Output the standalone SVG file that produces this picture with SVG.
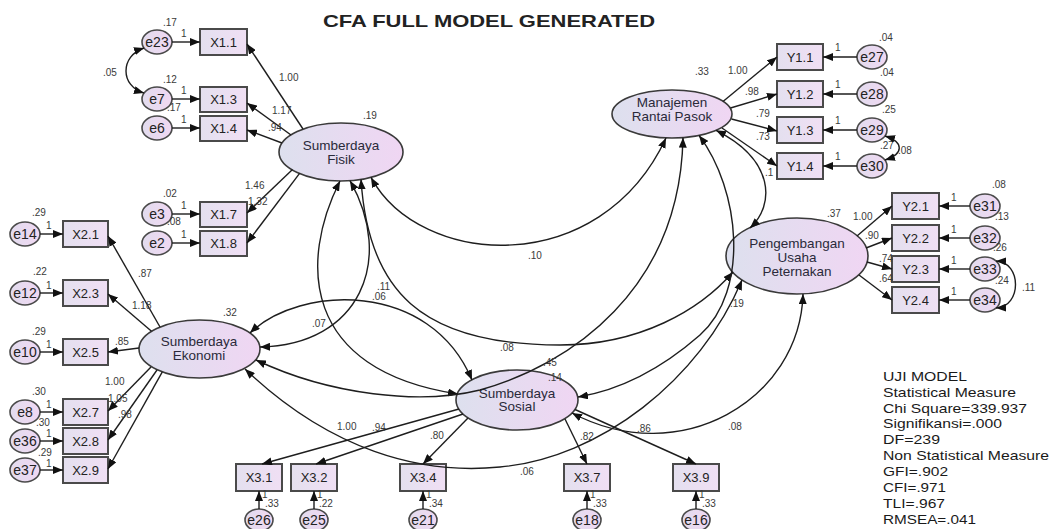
<svg xmlns="http://www.w3.org/2000/svg" width="1053" height="529" viewBox="0 0 1053 529">
<defs>
<linearGradient id="gLat" x1="0" y1="0" x2="1" y2="0"><stop offset="0" stop-color="#dde0ee"/><stop offset="1" stop-color="#f0d6f3"/></linearGradient>
<linearGradient id="gBox" x1="0" y1="0" x2="1" y2="0"><stop offset="0" stop-color="#e4e0ef"/><stop offset="1" stop-color="#f0dff4"/></linearGradient>
<linearGradient id="gErr" x1="0" y1="0" x2="1" y2="0"><stop offset="0" stop-color="#e2dcee"/><stop offset="1" stop-color="#f0d8f2"/></linearGradient>
<marker id="ah" viewBox="0 0 10 8" refX="10" refY="4" markerWidth="10" markerHeight="8" markerUnits="userSpaceOnUse" orient="auto-start-reverse"><path d="M0,0 L10,4 L0,8 z" fill="#111"/></marker>
</defs>
<style>
text{font-family:"Liberation Sans",Arial,sans-serif;fill:#222}
.lat{fill:url(#gLat);stroke:#3a3a3a;stroke-width:1.6}
.box{fill:url(#gBox);stroke:#4a4a4a;stroke-width:2}
.err{fill:url(#gErr);stroke:#4a4a4a;stroke-width:1.6}
.bt{font-size:13px;text-anchor:middle}
.lt{font-size:13.5px;text-anchor:middle;fill:#2a2a3a}
.et{font-size:14px;text-anchor:middle}
.c{font-size:10px;fill:#3a3a3a}
.ln{fill:none;stroke:#1e1e1e;stroke-width:1.4}
.one{marker-end:url(#ah)}
.two{marker-start:url(#ah);marker-end:url(#ah)}
.pn{font-size:13px;fill:#1a1a1a}
</style>
<rect width="1053" height="529" fill="#ffffff"/>
<text x="323" y="27" font-size="17" font-weight="bold" textLength="332" lengthAdjust="spacingAndGlyphs" fill="#111">CFA FULL MODEL GENERATED</text>

<!-- Latent nodes -->
<g id="sumberdaya-fisik"><ellipse class="lat" cx="341" cy="152" rx="62" ry="29"/><text class="lt" x="341" y="150">Sumberdaya</text><text class="lt" x="341" y="164">Fisik</text><text class="c" x="363" y="119">.19</text></g>
<g id="manajemen-rantai-pasok"><ellipse class="lat" cx="672" cy="114" rx="60" ry="24"/><text class="lt" x="672" y="107">Manajemen</text><text class="lt" x="672" y="121">Rantai Pasok</text><text class="c" x="695" y="75">.33</text></g>
<g id="pengembangan-usaha-peternakan"><ellipse class="lat" cx="797" cy="256" rx="71" ry="38"/><text class="lt" x="797" y="248">Pengembangan</text><text class="lt" x="797" y="262">Usaha</text><text class="lt" x="797" y="276">Peternakan</text><text class="c" x="827" y="217">.37</text></g>
<g id="sumberdaya-ekonomi"><ellipse class="lat" cx="199.5" cy="349" rx="60.5" ry="29"/><text class="lt" x="199" y="346">Sumberdaya</text><text class="lt" x="199" y="360">Ekonomi</text><text class="c" x="223" y="316">.32</text></g>
<g id="sumberdaya-sosial"><ellipse class="lat" cx="517" cy="400" rx="61" ry="30"/><text class="lt" x="517" y="398">Sumberdaya</text><text class="lt" x="517" y="411">Sosial</text><text class="c" x="548" y="381">.14</text></g>

<!-- Indicators X1 -->
<g id="X1.1"><rect class="box" x="200" y="29" width="47" height="26"/><text class="bt" x="223.5" y="46.5">X1.1</text></g>
<g id="X1.3"><rect class="box" x="200" y="87" width="47" height="25"/><text class="bt" x="223.5" y="104">X1.3</text></g>
<g id="X1.4"><rect class="box" x="200" y="116" width="47" height="25"/><text class="bt" x="223.5" y="133">X1.4</text></g>
<g id="X1.7"><rect class="box" x="200" y="202" width="47" height="25"/><text class="bt" x="223.5" y="219">X1.7</text></g>
<g id="X1.8"><rect class="box" x="200" y="231" width="47" height="25"/><text class="bt" x="223.5" y="248">X1.8</text></g>
<g id="e23"><ellipse class="err" cx="157" cy="42" rx="15" ry="12"/><text class="et" x="157" y="47">e23</text><text class="c" x="163" y="26">.17</text></g>
<g id="e7"><ellipse class="err" cx="157" cy="99" rx="15" ry="12"/><text class="et" x="157" y="104">e7</text><text class="c" x="163" y="83">.12</text></g>
<g id="e6"><ellipse class="err" cx="157" cy="128" rx="15" ry="12"/><text class="et" x="157" y="133">e6</text><text class="c" x="167" y="111">.17</text></g>
<g id="e3"><ellipse class="err" cx="157" cy="214" rx="15" ry="12"/><text class="et" x="157" y="219">e3</text><text class="c" x="163" y="197">.02</text></g>
<g id="e2"><ellipse class="err" cx="157" cy="243" rx="15" ry="12"/><text class="et" x="157" y="248">e2</text><text class="c" x="167" y="225">.08</text></g>

<!-- Indicators X2 -->
<g id="X2.1"><rect class="box" x="63" y="221" width="45" height="26"/><text class="bt" x="85.5" y="238.5">X2.1</text></g>
<g id="X2.3"><rect class="box" x="63" y="280" width="45" height="26"/><text class="bt" x="85.5" y="297.5">X2.3</text></g>
<g id="X2.5"><rect class="box" x="63" y="339" width="45" height="26"/><text class="bt" x="85.5" y="356.5">X2.5</text></g>
<g id="X2.7"><rect class="box" x="63" y="399" width="45" height="26"/><text class="bt" x="85.5" y="416.5">X2.7</text></g>
<g id="X2.8"><rect class="box" x="63" y="428" width="45" height="26"/><text class="bt" x="85.5" y="445.5">X2.8</text></g>
<g id="X2.9"><rect class="box" x="63" y="457" width="45" height="26"/><text class="bt" x="85.5" y="474.5">X2.9</text></g>
<g id="e14"><ellipse class="err" cx="25" cy="234" rx="15" ry="12"/><text class="et" x="25" y="239">e14</text><text class="c" x="32" y="216">.29</text></g>
<g id="e12"><ellipse class="err" cx="25" cy="293" rx="15" ry="12"/><text class="et" x="25" y="298">e12</text><text class="c" x="33" y="275">.22</text></g>
<g id="e10"><ellipse class="err" cx="25" cy="352" rx="15" ry="12"/><text class="et" x="25" y="357">e10</text><text class="c" x="32" y="335">.29</text></g>
<g id="e8"><ellipse class="err" cx="25" cy="412" rx="15" ry="12"/><text class="et" x="25" y="417">e8</text><text class="c" x="32" y="395">.30</text></g>
<g id="e36"><ellipse class="err" cx="25" cy="441" rx="15" ry="12"/><text class="et" x="25" y="446">e36</text><text class="c" x="36" y="426">.30</text></g>
<g id="e37"><ellipse class="err" cx="25" cy="470" rx="15" ry="12"/><text class="et" x="25" y="475">e37</text><text class="c" x="38" y="456">.29</text></g>

<!-- Indicators Y1 -->
<g id="Y1.1"><rect class="box" x="777" y="44" width="46" height="26"/><text class="bt" x="800" y="61.5">Y1.1</text></g>
<g id="Y1.2"><rect class="box" x="777" y="81" width="46" height="26"/><text class="bt" x="800" y="98.5">Y1.2</text></g>
<g id="Y1.3"><rect class="box" x="777" y="117" width="46" height="26"/><text class="bt" x="800" y="134.5">Y1.3</text></g>
<g id="Y1.4"><rect class="box" x="777" y="153" width="46" height="26"/><text class="bt" x="800" y="170.5">Y1.4</text></g>
<g id="e27"><ellipse class="err" cx="872" cy="57" rx="15" ry="12"/><text class="et" x="872" y="62">e27</text><text class="c" x="879" y="41">.04</text></g>
<g id="e28"><ellipse class="err" cx="872" cy="94" rx="15" ry="12"/><text class="et" x="872" y="99">e28</text><text class="c" x="880" y="76">.04</text></g>
<g id="e29"><ellipse class="err" cx="872" cy="130" rx="15" ry="12"/><text class="et" x="872" y="135">e29</text><text class="c" x="882" y="113">.25</text></g>
<g id="e30"><ellipse class="err" cx="872" cy="166" rx="15" ry="12"/><text class="et" x="872" y="171">e30</text><text class="c" x="880" y="149">.27</text></g>

<!-- Indicators Y2 -->
<g id="Y2.1"><rect class="box" x="892" y="193" width="47" height="26"/><text class="bt" x="915.5" y="210.5">Y2.1</text></g>
<g id="Y2.2"><rect class="box" x="892" y="225" width="47" height="26"/><text class="bt" x="915.5" y="242.5">Y2.2</text></g>
<g id="Y2.3"><rect class="box" x="892" y="256" width="47" height="26"/><text class="bt" x="915.5" y="273.5">Y2.3</text></g>
<g id="Y2.4"><rect class="box" x="892" y="287" width="47" height="26"/><text class="bt" x="915.5" y="304.5">Y2.4</text></g>
<g id="e31"><ellipse class="err" cx="985" cy="206" rx="15" ry="12"/><text class="et" x="985" y="211">e31</text><text class="c" x="992" y="188">.08</text></g>
<g id="e32"><ellipse class="err" cx="985" cy="238" rx="15" ry="12"/><text class="et" x="985" y="243">e32</text><text class="c" x="995" y="220">.13</text></g>
<g id="e33"><ellipse class="err" cx="985" cy="269" rx="15" ry="12"/><text class="et" x="985" y="274">e33</text><text class="c" x="993" y="251">.26</text></g>
<g id="e34"><ellipse class="err" cx="985" cy="300" rx="15" ry="12"/><text class="et" x="985" y="305">e34</text><text class="c" x="995" y="284">.24</text></g>

<!-- Indicators X3 -->
<g id="X3.1"><rect class="box" x="236" y="464" width="46" height="27"/><text class="bt" x="259" y="482">X3.1</text></g>
<g id="X3.2"><rect class="box" x="291" y="464" width="46" height="27"/><text class="bt" x="314" y="482">X3.2</text></g>
<g id="X3.4"><rect class="box" x="400" y="464" width="46" height="27"/><text class="bt" x="423" y="482">X3.4</text></g>
<g id="X3.7"><rect class="box" x="564" y="464" width="46" height="27"/><text class="bt" x="587" y="482">X3.7</text></g>
<g id="X3.9"><rect class="box" x="673" y="464" width="46" height="27"/><text class="bt" x="696" y="482">X3.9</text></g>
<g id="e26"><ellipse class="err" cx="259" cy="520" rx="14" ry="11"/><text class="et" x="259" y="525">e26</text><text class="c" x="265" y="507">.33</text></g>
<g id="e25"><ellipse class="err" cx="314" cy="520" rx="14" ry="11"/><text class="et" x="314" y="525">e25</text><text class="c" x="319" y="507">.22</text></g>
<g id="e21"><ellipse class="err" cx="423" cy="520" rx="14" ry="11"/><text class="et" x="423" y="525">e21</text><text class="c" x="429" y="507">.34</text></g>
<g id="e18"><ellipse class="err" cx="587" cy="520" rx="14" ry="11"/><text class="et" x="587" y="525">e18</text><text class="c" x="593" y="507">.33</text></g>
<g id="e16"><ellipse class="err" cx="696" cy="520" rx="14" ry="11"/><text class="et" x="696" y="525">e16</text><text class="c" x="702" y="507">.33</text></g>

<!-- Connectors -->
<g id="connectors">
<path class="ln one" d="M172,42 L200,42"/>
<path class="ln one" d="M172,99 L200,99"/>
<path class="ln one" d="M172,128 L200,128"/>
<path class="ln one" d="M172,214 L200,214"/>
<path class="ln one" d="M172,243 L200,243"/>
<path class="ln one" d="M40,234 L63,234"/>
<path class="ln one" d="M40,293 L63,293"/>
<path class="ln one" d="M40,352 L63,352"/>
<path class="ln one" d="M40,412 L63,412"/>
<path class="ln one" d="M40,441 L63,441"/>
<path class="ln one" d="M40,470 L63,470"/>
<path class="ln one" d="M857,57 L823,57"/>
<path class="ln one" d="M857,94 L823,94"/>
<path class="ln one" d="M857,130 L823,130"/>
<path class="ln one" d="M857,166 L823,166"/>
<path class="ln one" d="M970,206 L939,206"/>
<path class="ln one" d="M970,238 L939,238"/>
<path class="ln one" d="M970,269 L939,269"/>
<path class="ln one" d="M970,300 L939,300"/>
<path class="ln one" d="M259,509 L259,491"/>
<path class="ln one" d="M314,509 L314,491"/>
<path class="ln one" d="M423,509 L423,491"/>
<path class="ln one" d="M587,509 L587,491"/>
<path class="ln one" d="M696,509 L696,491"/>
<path class="ln one" d="M303,129 L247,44"/>
<path class="ln one" d="M291,135 L247,103"/>
<path class="ln one" d="M282,143 L247,130"/>
<path class="ln one" d="M292.5,169.5 L247,213"/>
<path class="ln one" d="M299.6,173.4 L247,243"/>
<path class="ln one" d="M160,327 L108,236"/>
<path class="ln one" d="M151.5,331.3 L108,294"/>
<path class="ln one" d="M139,348 L108,352"/>
<path class="ln one" d="M151,367 L108,411"/>
<path class="ln one" d="M157,370 L108,440"/>
<path class="ln one" d="M162.3,371.8 L108,469"/>
<path class="ln one" d="M723,101.5 L777,57"/>
<path class="ln one" d="M730.5,108 L777,94"/>
<path class="ln one" d="M731.5,119 L777,131"/>
<path class="ln one" d="M722,128 L777,166"/>
<path class="ln one" d="M857,236 L892,206"/>
<path class="ln one" d="M866,248 L892,238"/>
<path class="ln one" d="M867,262 L892,269"/>
<path class="ln one" d="M859,275 L892,300"/>
<path class="ln one" d="M459,409 L262,464"/>
<path class="ln one" d="M463,414 L316,464"/>
<path class="ln one" d="M468,418 L423,464"/>
<path class="ln one" d="M565,419 L587,464"/>
<path class="ln one" d="M575,409.5 L696,464"/>
<path class="ln two" d="M144,48 C120,56 120,86 144,93"/>
<path class="ln two" d="M885,136 C904,142 904,154 885,160"/>
<path class="ln two" d="M996,261 C1022,262 1022,307 996,308"/>
<path class="ln two" d="M371,177.4 C420,268 600,280 666,138"/>
<path class="ln two" d="M361,179.3 C368,290 420,345 560,345 C640,345 700,310 733,272"/>
<path class="ln two" d="M340,181 C300,260 300,370 458,394"/>
<path class="ln two" d="M350,180.7 C395,260 360,345 260,347"/>
<path class="ln two" d="M250,333 C300,285 430,280 472,380"/>
<path class="ln two" d="M683,137.6 C680,290 570,365 480,390 C420,405 330,395 256,360"/>
<path class="ln two" d="M699,135.4 C740,190 750,290 700,335 C660,370 620,390 578,397"/>
<path class="ln two" d="M716,130.3 C775,160 775,205 750,228"/>
<path class="ln two" d="M803,294 C800,400 680,470 572,413"/>
<path class="ln two" d="M245,369 C330,450 420,475 500,467 C600,458 700,380 742,280"/>
<text class="c" x="181" y="37">1</text>
<text class="c" x="181" y="94">1</text>
<text class="c" x="181" y="123">1</text>
<text class="c" x="181" y="209">1</text>
<text class="c" x="181" y="238">1</text>
<text class="c" x="46" y="229">1</text>
<text class="c" x="46" y="289">1</text>
<text class="c" x="46" y="348">1</text>
<text class="c" x="46" y="408">1</text>
<text class="c" x="46" y="437">1</text>
<text class="c" x="46" y="467">1</text>
<text class="c" x="835" y="51">1</text>
<text class="c" x="835" y="88">1</text>
<text class="c" x="835" y="124">1</text>
<text class="c" x="835" y="160">1</text>
<text class="c" x="951" y="201">1</text>
<text class="c" x="951" y="233">1</text>
<text class="c" x="951" y="264">1</text>
<text class="c" x="951" y="295">1</text>
<text class="c" x="262" y="498">1</text>
<text class="c" x="317" y="498">1</text>
<text class="c" x="426" y="498">1</text>
<text class="c" x="590" y="498">1</text>
<text class="c" x="699" y="498">1</text>
<text class="c" x="103" y="76">.05</text>
<text class="c" x="898" y="154">.08</text>
<text class="c" x="1022" y="291">.11</text>
<text class="c" x="279" y="81">1.00</text>
<text class="c" x="272" y="114">1.17</text>
<text class="c" x="268" y="131">.94</text>
<text class="c" x="245" y="189">1.46</text>
<text class="c" x="248" y="205">1.32</text>
<text class="c" x="138" y="277">.87</text>
<text class="c" x="132" y="309">1.18</text>
<text class="c" x="115" y="345">.85</text>
<text class="c" x="105" y="385">1.00</text>
<text class="c" x="108" y="402">1.05</text>
<text class="c" x="118" y="418">.98</text>
<text class="c" x="728" y="74">1.00</text>
<text class="c" x="745" y="95">.98</text>
<text class="c" x="756" y="117">.79</text>
<text class="c" x="756" y="140">.73</text>
<text class="c" x="765" y="176">.1</text>
<text class="c" x="853" y="220">1.00</text>
<text class="c" x="865" y="239">.90</text>
<text class="c" x="879" y="262">.74</text>
<text class="c" x="879" y="282">.64</text>
<text class="c" x="337" y="430">1.00</text>
<text class="c" x="372" y="431">.94</text>
<text class="c" x="430" y="439">.80</text>
<text class="c" x="580" y="440">.82</text>
<text class="c" x="637" y="432">.86</text>
<text class="c" x="528" y="259">.10</text>
<text class="c" x="377" y="290">.11</text>
<text class="c" x="372" y="300">.06</text>
<text class="c" x="312" y="327">.07</text>
<text class="c" x="500" y="351">.08</text>
<text class="c" x="543" y="366">.45</text>
<text class="c" x="730" y="307">.19</text>
<text class="c" x="520" y="475">.06</text>
<text class="c" x="728" y="430">.08</text>
</g>

<g id="uji-model">
<text class="pn" x="883" y="381" textLength="84" lengthAdjust="spacingAndGlyphs">UJI MODEL</text>
<text class="pn" x="883" y="397" textLength="133" lengthAdjust="spacingAndGlyphs">Statistical Measure</text>
<text class="pn" x="883" y="413" textLength="144" lengthAdjust="spacingAndGlyphs">Chi Square=339.937</text>
<text class="pn" x="883" y="428" textLength="119" lengthAdjust="spacingAndGlyphs">Signifikansi=.000</text>
<text class="pn" x="883" y="444" textLength="57" lengthAdjust="spacingAndGlyphs">DF=239</text>
<text class="pn" x="883" y="460" textLength="166" lengthAdjust="spacingAndGlyphs">Non Statistical Measure</text>
<text class="pn" x="883" y="476" textLength="65" lengthAdjust="spacingAndGlyphs">GFI=.902</text>
<text class="pn" x="883" y="492" textLength="63" lengthAdjust="spacingAndGlyphs">CFI=.971</text>
<text class="pn" x="883" y="508" textLength="62" lengthAdjust="spacingAndGlyphs">TLI=.967</text>
<text class="pn" x="883" y="524" textLength="93" lengthAdjust="spacingAndGlyphs">RMSEA=.041</text>
</g>
</svg>
